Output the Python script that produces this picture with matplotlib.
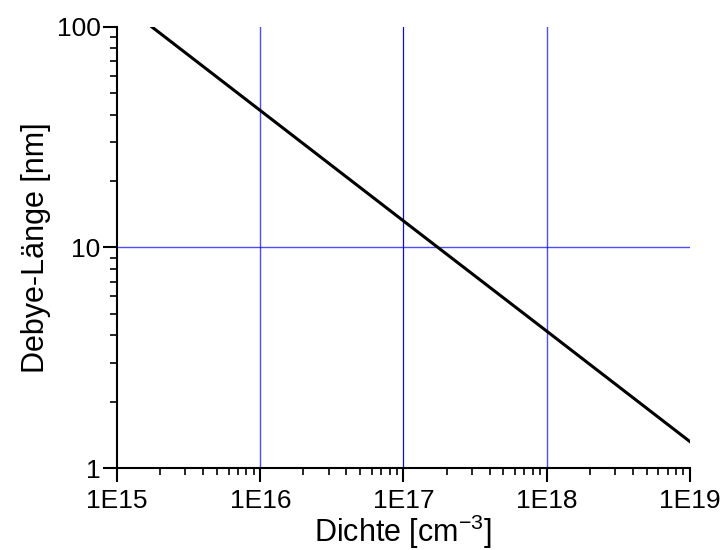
import matplotlib
matplotlib.use("Agg")
import matplotlib.pyplot as plt
from matplotlib.ticker import LogLocator, FixedLocator, FixedFormatter, NullFormatter

plt.rcParams['font.family'] = ['Liberation Sans', 'DejaVu Sans']
plt.rcParams['mathtext.fontset'] = 'custom'
plt.rcParams['mathtext.rm'] = 'Liberation Sans'
plt.rcParams['mathtext.it'] = 'Liberation Sans'

# Debye length vs. carrier density
density = [1.75e15, 1e16, 1e17, 1e18, 1e19]
debye_nm = [100.0, 41.8, 13.2, 4.18, 1.32]

xticks = [1e15, 1e16, 1e17, 1e18, 1e19]
xticklabels = ['1E15', '1E16', '1E17', '1E18', '1E19']
yticks = [1, 10, 100]
yticklabels = ['1', '10', '100']

fig = plt.figure(figsize=(7.23, 5.5), dpi=100)
ax = fig.add_axes([0.162, 0.149, 0.792, 0.802])

ax.set_xscale('log')
ax.set_yscale('log')
ax.set_xlim(1e15, 1e19)
ax.set_ylim(1, 100)

# grid lines
ax.axvline(1e16, color='#0000ff', lw=1.0, alpha=0.7, zorder=1)
ax.axvline(1e17, color='#0000cc', lw=0.9, alpha=0.95, zorder=1)
ax.axvline(1e18, color='#0000ff', lw=1.0, alpha=0.7, zorder=1)
ax.axhline(10, color='#0000ff', lw=1.0, alpha=0.7, zorder=1)

ax.plot(density, debye_nm, color='black', lw=2.2, zorder=3)

ax.xaxis.set_major_locator(FixedLocator(xticks))
ax.xaxis.set_major_formatter(FixedFormatter(xticklabels))
ax.yaxis.set_major_locator(FixedLocator(yticks))
ax.yaxis.set_major_formatter(FixedFormatter(yticklabels))
ax.xaxis.set_minor_locator(LogLocator(base=10, subs=range(2, 10), numticks=20))
ax.yaxis.set_minor_locator(LogLocator(base=10, subs=range(2, 10), numticks=20))
ax.xaxis.set_minor_formatter(NullFormatter())
ax.yaxis.set_minor_formatter(NullFormatter())

ax.tick_params(which='major', direction='out', length=10, width=1.5, labelsize=19)
ax.tick_params(axis='x', which='major', pad=5)
ax.tick_params(axis='y', which='major', pad=2)
ax.tick_params(which='minor', direction='out', length=5, width=1.2)

ax.spines['top'].set_visible(False)
ax.spines['right'].set_visible(False)
ax.spines['left'].set_linewidth(1.5)
ax.spines['bottom'].set_linewidth(1.5)

ax.set_xlabel('Dichte [cm$^{-3}$]', fontsize=22, labelpad=0)
ax.set_ylabel('Debye-Länge [nm]', fontsize=22, labelpad=4)

fig.savefig('out.png', dpi=100)
